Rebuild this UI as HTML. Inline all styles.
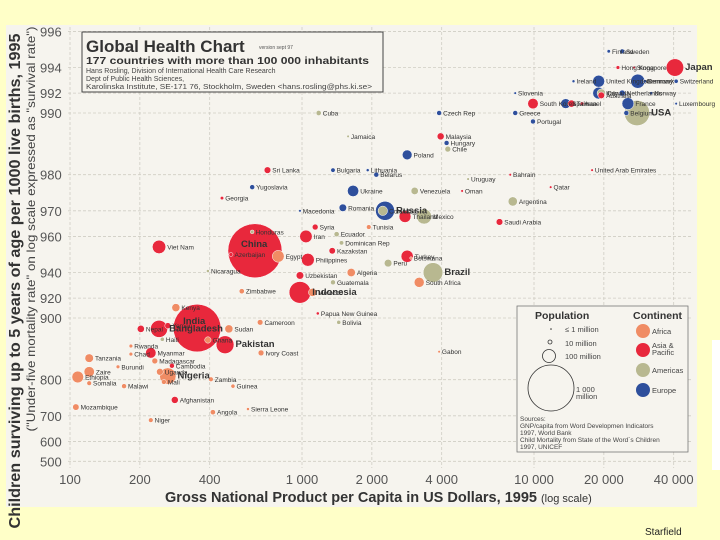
<!DOCTYPE html>
<html><head><meta charset="utf-8">
<style>
html,body{margin:0;padding:0;background:#ffffc8;}
svg{display:block;font-family:"Liberation Sans",sans-serif;}
</style></head>
<body>
<svg id="chart" width="720" height="540" viewBox="0 0 720 540">
<rect x="0" y="0" width="720" height="540" fill="#ffffc8"/>
<rect x="6" y="25" width="691" height="482" fill="#f6f4ee"/>
<rect x="712" y="340" width="8" height="130" fill="#ffffff"/>
<g id="grid"></g>
<g id="yticks"></g>
<g id="xticks"></g>
<g id="marks"></g>

<g>
<rect x="82" y="32" width="301" height="60" fill="#f6f4ee" stroke="#444" stroke-width="1"/>
<text x="86" y="52" font-size="17" font-weight="bold" fill="#333">Global Health Chart</text>
<text x="259" y="49" font-size="5" fill="#555">version sept 97</text>
<text x="86" y="64" font-size="10.5" font-weight="bold" fill="#333" textLength="283" lengthAdjust="spacingAndGlyphs">177 countries with more than 100 000 inhabitants</text>
<text x="86" y="73" font-size="7" fill="#444">Hans Rosling, Division of International Health Care Research</text>
<text x="86" y="81" font-size="7" fill="#444">Dept of Public Health Sciences,</text>
<text x="86" y="89" font-size="7" fill="#444" textLength="286" lengthAdjust="spacingAndGlyphs">Karolinska Institute, SE-171 76, Stockholm, Sweden  &lt;hans.rosling@phs.ki.se&gt;</text>
</g>

<g>
<rect x="517" y="306" width="171" height="146" fill="#f6f4ee" stroke="#777" stroke-width="0.8"/>
<text x="535" y="319" font-size="10.5" font-weight="bold" fill="#333">Population</text>
<text x="633" y="319" font-size="10.5" font-weight="bold" fill="#333">Continent</text>
<circle cx="551" cy="329" r="0.8" fill="#333"/>
<text x="565" y="332" font-size="7.5" fill="#444">≤ 1 million</text>
<circle cx="550" cy="342" r="2" fill="none" stroke="#333" stroke-width="0.8"/>
<text x="565" y="346" font-size="7.5" fill="#444">10 million</text>
<circle cx="549" cy="356" r="6.5" fill="none" stroke="#333" stroke-width="0.8"/>
<text x="565" y="359" font-size="7.5" fill="#444">100 million</text>
<circle cx="551" cy="388" r="23" fill="none" stroke="#333" stroke-width="0.8"/>
<text x="576" y="392" font-size="7.5" fill="#444">1 000</text>
<text x="576" y="399" font-size="7.5" fill="#444">million</text>
<circle cx="643" cy="331" r="7" fill="#f08c64"/>
<text x="652" y="334" font-size="7.5" fill="#444">Africa</text>
<circle cx="643" cy="350" r="7" fill="#e8283c"/>
<text x="652" y="348" font-size="7.5" fill="#444">Asia &amp;</text>
<text x="652" y="355" font-size="7.5" fill="#444">Pacific</text>
<circle cx="643" cy="370" r="7" fill="#b8b890"/>
<text x="652" y="373" font-size="7.5" fill="#444">Americas</text>
<circle cx="643" cy="390" r="7" fill="#2e4f9c"/>
<text x="652" y="393" font-size="7.5" fill="#444">Europe</text>
<text x="520" y="421" font-size="6.5" fill="#444">Sources:</text>
<text x="520" y="428" font-size="6.5" fill="#444">GNP/capita from Word Developmen Indicators</text>
<text x="520" y="435" font-size="6.5" fill="#444">1997, World Bank</text>
<text x="520" y="442" font-size="6.5" fill="#444">Child Mortality from State of the Word´s Children</text>
<text x="520" y="449" font-size="6.5" fill="#444">1997, UNICEF</text>
</g>

<text transform="translate(20,281) rotate(-90)" text-anchor="middle" font-size="16" font-weight="bold" fill="#333" textLength="495" lengthAdjust="spacingAndGlyphs">Children surviving up to 5 years of age per 1000 live births, 1995</text>
<text transform="translate(35,229) rotate(-90)" text-anchor="middle" font-size="12" fill="#444" textLength="405" lengthAdjust="spacingAndGlyphs">("Under-five mortality rate" on log scale expressed as "survival rate")</text>
<text x="165" y="502" font-size="15" font-weight="bold" fill="#333" textLength="372" lengthAdjust="spacingAndGlyphs">Gross National Product per Capita in US Dollars, 1995</text>
<text x="541" y="502" font-size="11" fill="#333">(log scale)</text>
<text x="645" y="535" font-size="10" fill="#222">Starfield</text>
</svg>
<script>
const xTicks=[100,200,400,1000,2000,4000,10000,20000,40000];
const xTickLabels=["100","200","400","1 000","2 000","4 000","10 000","20 000","40 000"];
const yTicks=[996,994,992,990,980,970,960,940,920,900,800,700,600,500];
const names=["Japan","USA","Germany","United Kingdom","France","Italy","Spain","Canada","Finland","Sweden","Hong Kong","Singapore","Denmark","Switzerland","Netherlands","Norway","Belgium","Luxembourg","Australia","Israel","Taiwan","Ireland","South Korea","Greece","Slovenia","Czech Rep","Portugal","Cuba","Malaysia","Hungary","Chile","Poland","United Arab Emirates","Bahrain","Qatar","Argentina","Saudi Arabia","Mexico","Russia","Thailand","Turkey","Brazil","South Africa","Peru","Venezuela","Ukraine","Romania","Colombia","Bulgaria","Sri Lanka","Yugoslavia","Viet Nam","China","Egypt","Philippines","Indonesia","Iran","Algeria","Uzbekistan","Kazakstan","Macedonia","Morocco","Syria","Nigeria","India","Pakistan","Bangladesh","Nepal","Ethiopia","Zaire","Tanzania","Mozambique","Kenya","Myanmar","Afghanistan","Uganda","Sudan","Ghana","Madagascar","Angola","Niger","Sierra Leone","Yemen","Ivory Coast","Cameroon","Zimbabwe","Mali","Malawi","Burundi","Zambia","Guinea","Somalia","Chad","Rwanda","Cambodia","Haiti","Honduras","Guatemala","Bolivia","Papua New Guinea","Dominican Rep","Ecuador","Tunisia","Jamaica","Lithuania","Belarus","Uruguay","Oman","Botswana","Gabon","Georgia","Azerbaijan","Nicaragua"];
const gnp=[40500,27800,28000,19000,25400,19000,13700,19500,21000,24000,23000,27000,30000,41000,24000,32000,25000,41000,19500,16100,14500,14800,9900,8300,8300,3900,9900,1180,3960,4200,4250,2840,17800,7900,11800,8100,7100,3360,2280,2780,2840,3670,3200,2350,3060,1660,1500,2230,1360,710,610,242,627,790,1060,980,1040,1630,980,1350,980,1110,1140,264,353,466,242,202,108,121,121,106,286,223,283,244,484,393,232,413,223,585,264,666,660,550,254,171,161,405,504,121,183,183,275,250,610,1360,1440,1170,1480,1410,1940,1580,1920,2090,5200,4900,2950,3900,452,494,393];
const survival=[994,990,993,993,991,992,991,992,995,995,994,994,993,993,992,992,990,991,991.8,991,991,993,991,990,992,990,989,990,987,986,985,984,981,980,977,973,966,968,970,968,950,940,933,946,976,976,971,970,981,981,977,955,953,950,948,925,960,940,938,953,970,925,964,808,888,865,887,887,806,817,843,728,911,852,749,817,887,872,838,712,685,722,891,852,895,926,795,785,827,801,785,792,850,863,829,873,962,933,895,905,957,961,964,987,981,980,979,976,949,854,974,951,941];
const population=[125,263,82,58,58,57,39,29,5,9,6,3,5,7,15,4,10,0.4,18,5.6,21,3.6,45,10,2,10,10,11,20,10,14,39,2,0.6,0.6,35,18,92,148,58,61,159,41,24,22,52,23,37,8,18,10,74,1200,58,68,193,64,28,23,17,2,27,14,111,930,130,120,21,56,44,30,17,27,45,20,19,27,17,14,11,9,4,15,14,13,11,10,10,6,9,7,9,6,6,10,7,6,10,7,4,8,11,9,2.5,3.7,10,3,2,1.5,1.1,5,7,4];
const continent=["as","am","eu","eu","eu","eu","eu","am","eu","eu","as","as","eu","eu","eu","eu","eu","eu","as","as","as","eu","as","eu","eu","eu","eu","am","as","eu","am","eu","as","as","as","am","as","am","eu","as","as","am","af","am","am","eu","eu","am","eu","as","eu","as","as","af","as","as","as","af","as","as","eu","af","as","af","as","as","as","as","af","af","af","af","af","as","as","af","af","af","af","af","af","af","as","af","af","af","af","af","af","af","af","af","af","af","as","am","am","am","am","as","am","am","af","am","eu","eu","am","as","af","af","as","as","am"];
const colors={af:"#f08c64",as:"#e8283c",am:"#b8b890",eu:"#2e4f9c"};
const boldNames=["China","India","Indonesia","Pakistan","Bangladesh","Nigeria","Brazil","Russia","USA","Japan"];
const NS="http://www.w3.org/2000/svg";
function xs(v){return 70+232*Math.log10(v/100);}
function ys(v){return 113+205*Math.log10((1000-v)/10);}
function rs(p){return Math.max(1.3,0.78*Math.sqrt(p));}
const grid=document.getElementById('grid');
const yt=document.getElementById('yticks');
const xt=document.getElementById('xticks');
const marks=document.getElementById('marks');
yTicks.forEach(function(t){
  const l=document.createElementNS(NS,'line');
  l.setAttribute('x1',68);l.setAttribute('x2',692);
  l.setAttribute('y1',ys(t));l.setAttribute('y2',ys(t));
  l.setAttribute('stroke','#d0cdc4');l.setAttribute('stroke-width','0.8');l.setAttribute('stroke-dasharray','3,2');
  
  
  grid.appendChild(l);
  const tx=document.createElementNS(NS,'text');
  tx.setAttribute('x',40);tx.setAttribute('y',ys(t)+5);
  tx.setAttribute('font-size','13');tx.setAttribute('fill','#555');
  tx.textContent=t;
  
  
  yt.appendChild(tx);
});
xTicks.forEach(function(t,i){
  const l=document.createElementNS(NS,'line');
  l.setAttribute('x1',xs(t));l.setAttribute('x2',xs(t));
  l.setAttribute('y1',27);l.setAttribute('y2',468);
  l.setAttribute('stroke','#d0cdc4');l.setAttribute('stroke-width','0.8');l.setAttribute('stroke-dasharray','3,2');
  
  
  grid.appendChild(l);
  const tx=document.createElementNS(NS,'text');
  tx.setAttribute('x',xs(t));tx.setAttribute('y',484);
  tx.setAttribute('text-anchor','middle');
  tx.setAttribute('font-size','13');tx.setAttribute('fill','#555');
  tx.textContent=xTickLabels[i];
  
  
  xt.appendChild(tx);
});
const order=names.map(function(n,i){return i;}).sort(function(a,b){return population[b]-population[a];});
order.forEach(function(i){
  const c=document.createElementNS(NS,'circle');
  const r=rs(population[i]);
  c.setAttribute('cx',xs(gnp[i]));c.setAttribute('cy',ys(survival[i]));c.setAttribute('r',r);
  c.setAttribute('fill',colors[continent[i]]);
  c.setAttribute('stroke','#ffffff');c.setAttribute('stroke-width','0.5');
  
  
  marks.appendChild(c);
});
names.forEach(function(n,i){
  const isBold=boldNames.indexOf(n)>=0;
  const r=rs(population[i]);
  const tx=document.createElementNS(NS,'text');
  if(n==="China"||n==="India"){
    tx.setAttribute('x',xs(gnp[i])-14);tx.setAttribute('y',ys(survival[i])-4);
  } else {
    tx.setAttribute('x',xs(gnp[i])+r+1.5);tx.setAttribute('y',ys(survival[i])+2.5);
  }
  tx.setAttribute('font-size',isBold?'9.5':'6.5');
  if(isBold)tx.setAttribute('font-weight','bold');
  tx.setAttribute('fill','#333');
  tx.textContent=n;
  
  
  marks.appendChild(tx);
});
</script>
</body></html>
